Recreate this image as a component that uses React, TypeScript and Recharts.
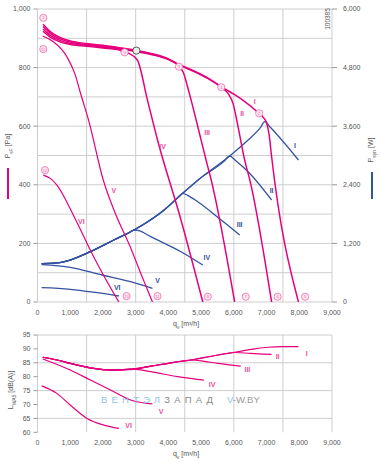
import React from 'react'
import { ComposedChart, Line, Scatter, XAxis, YAxis, CartesianGrid } from 'recharts'

const PINK = '#e5007d'
const PINK_LT = '#ec4f9c'
const BLUE = '#34529f'
const GRID = '#c8c8c8'
const TXT = '#555'
const FONT = '"Liberation Sans", Arial, sans-serif'

// axes
const qTicks = [0, 1000, 2000, 3000, 4000, 5000, 6000, 7000, 8000, 9000]
const qGrid = [0, 500, 1000, 1500, 2000, 2500, 3000, 3500, 4000, 4500, 5000, 5500, 6000, 6500, 7000, 7500, 8000, 8500, 9000]
const pTicks = [0, 200, 400, 600, 800, 1000]
const pGrid = [0, 100, 200, 300, 400, 500, 600, 700, 800, 900, 1000]
const wTicks = [0, 1200, 2400, 3600, 4800, 6000]
const dbTicks = [60, 65, 70, 75, 80, 85, 90, 95]

// pressure curves p_sF [Pa] over q_v [m3/h]
const envQ = [170, 400, 700, 1000, 1500, 2000, 2500, 3000, 3500, 4000, 4300]
const pI_q = [...envQ, 4700, 5200, 5600, 6200, 6750, 6900, 7000, 7080, 7150, 7975]
const pI_v = [948, 922, 902, 891, 882, 876, 868, 859, 847, 830, 812, 793, 765, 736, 695, 646, 630, 612, 570, 500, 0]
const pII_q = [...envQ, 4700, 5200, 5615, 5820, 5975, 6130, 6330, 6490, 7154]
const pII_v = [940, 916, 897, 887, 879, 873, 866, 857, 846, 829, 811, 791, 763, 733, 712, 678, 598, 485, 416, 0]
const pIII_q = [...envQ, 4450, 4640, 4900, 5150, 5310, 6025]
const pIII_v = [932, 909, 892, 883, 876, 870, 863, 855, 844, 827, 808, 785, 712, 598, 485, 416, 0]
const pIV_q = [170, 400, 700, 1000, 1500, 2000, 2500, 2662, 2800, 3052, 3360, 3668, 4385, 5052]
const pIV_v = [924, 903, 887, 879, 873, 867, 860, 852, 848, 826, 689, 553, 280, 0]
const pV_q = [160, 487, 898, 1154, 1308, 1615, 1821, 1975, 2333, 2846, 3200, 3513]
const pV_v = [908, 888, 837, 775, 715, 598, 500, 430, 315, 185, 85, 0]
const pVI_q = [178, 400, 600, 800, 1000, 1308, 1600, 1975, 2487]
const pVI_v = [433, 421, 398, 362, 318, 248, 180, 100, 0]

// power curves P_syn [W]
const wI_q = [128, 590, 1000, 1615, 2333, 2948, 3871, 4436, 4948, 5872, 6437, 6800, 6948, 7100, 7975]
const wI_v = [785, 800, 860, 1030, 1270, 1474, 1884, 2226, 2520, 2990, 3317, 3560, 3692, 3590, 2908]
const wII_q = [128, 590, 1000, 1615, 2333, 2948, 3871, 4436, 4948, 5700, 5872, 6050, 6437, 7154]
const wII_v = [785, 800, 860, 1030, 1270, 1474, 1884, 2226, 2520, 2880, 2990, 2900, 2668, 2089]
const wIII_q = [128, 590, 1000, 1615, 2333, 2948, 3871, 4300, 4436, 4600, 4898, 5615, 6180]
const wIII_v = [785, 800, 860, 1030, 1270, 1474, 1884, 2145, 2226, 2180, 2054, 1679, 1372]
const wIV_q = [128, 590, 1000, 1615, 2333, 2800, 2948, 3100, 3462, 4385, 5052]
const wIV_v = [785, 800, 860, 1030, 1270, 1420, 1474, 1460, 1338, 1030, 758]
const wV_q = [128, 1000, 1975, 2846, 3513]
const wV_v = [765, 710, 553, 416, 280]
const wVI_q = [128, 1000, 1821, 2487]
const wVI_v = [293, 260, 190, 123]

// sound power [dB(A)]
const sI_q = [160, 600, 1000, 1615, 2333, 2948, 3462, 4077, 4692, 5513, 6025, 6538, 7052, 7500, 7975]
const sI_v = [87.0, 86.0, 84.8, 83.2, 82.4, 82.8, 83.8, 85.0, 86.0, 87.8, 88.8, 89.8, 90.6, 90.8, 90.8]
const sII_q = [160, 600, 1000, 1615, 2333, 2948, 3462, 4077, 4692, 5513, 6025, 6500, 7154]
const sII_v = [87.0, 86.0, 84.8, 83.2, 82.4, 82.8, 83.8, 85.0, 86.0, 87.8, 88.7, 88.4, 88.0]
const sIII_q = [160, 600, 1000, 1615, 2333, 2948, 3462, 4077, 4692, 5100, 5513, 6210]
const sIII_v = [87.0, 86.0, 84.8, 83.2, 82.4, 82.8, 83.8, 85.0, 86.0, 85.5, 84.8, 83.8]
const sIV_q = [160, 600, 1000, 1615, 2333, 2800, 2948, 3462, 4282, 5083]
const sIV_v = [87.0, 86.0, 84.8, 83.2, 82.4, 82.5, 82.6, 81.8, 80.0, 78.8]
const sV_q = [160, 385, 1000, 1615, 2333, 2846, 3513]
const sV_v = [86.4, 85.4, 82.4, 78.8, 74.6, 71.6, 70.2]
const sVI_q = [128, 591, 1000, 1513, 2025, 2487]
const sVI_v = [76.7, 74.0, 69.8, 65.0, 62.6, 61.4]

// circled operating points
const ptNum = ['1', '10', '9', '4', '3', '2', '12', '13', '11', '8', '7', '6', '5']
const ptQ = [178, 178, 2662, 5615, 4323, 6775, 230, 2723, 3667, 5205, 6363, 7338, 8178]
const ptP = [970, 863, 852, 733, 803, 644, 450, 20, 20, 18, 18, 18, 18]
const blackPtQ = [3022]
const blackPtP = [858]

// roman labels
const pLabT = ['I', 'II', 'III', 'IV', 'V', 'VI']
const pLabQ = [6640, 6252, 5185, 3822, 2332, 1338]
const pLabV = [684, 644, 578, 530, 379, 276]
const wLabQ = [7871, 7154, 6178, 5175, 3668, 2437]
const wLabV = [3195, 2280, 1590, 920, 440, 295]
const sLabT = ['I', 'II', 'III', 'IV', 'V', 'VI']
const sLabQ = [8230, 7338, 6415, 5338, 3780, 2785]
const sLabV = [88.2, 87.1, 82.4, 77.0, 67.6, 62.6]

const rows = (q: number[], v: number[]) => q.map((x, i) => ({ q: x, v: v[i] }))
const fmt = (v: number) => v.toLocaleString('en-US')

const ptRows = ptQ.map((q, i) => ({ q, v: ptP[i], n: ptNum[i] }))
const blackRows = blackPtQ.map((q, i) => ({ q, v: blackPtP[i], n: '' }))
const pLabRows = pLabQ.map((q, i) => ({ q, v: pLabV[i], t: pLabT[i] }))
const wLabRows = wLabQ.map((q, i) => ({ q, v: wLabV[i], t: pLabT[i] }))
const sLabRows = sLabQ.map((q, i) => ({ q, v: sLabV[i], t: sLabT[i] }))

const Marker = (dark: boolean) => (props: any) => {
  const { cx, cy, payload } = props
  const c = dark ? '#333' : '#ee6aa9'
  return (
    <g>
      <circle cx={cx} cy={cy} r={3.6} fill={dark ? '#eee' : '#fde8f2'} stroke={c} strokeWidth={0.8} />
      <text x={cx} y={cy} dy="0.35em" textAnchor="middle" fontSize={4.2} fill={c} fontFamily={FONT}>
        {payload.n}
      </text>
    </g>
  )
}

const Tag = (color: string) => (props: any) => {
  const { cx, cy, payload } = props
  return (
    <text x={cx} y={cy} dy="0.35em" textAnchor="middle" fontSize={7} fontWeight="bold" fill={color} fontFamily={FONT}>
      {payload.t}
    </text>
  )
}

const tickStyle = { fill: TXT, fontSize: 7, fontFamily: FONT }

function Rot({ x, y, children, size = 7 }: any) {
  return (
    <div
      style={{
        position: 'absolute', left: x, top: y, transform: 'translate(-50%,-50%) rotate(-90deg)',
        whiteSpace: 'nowrap', fontSize: size, color: TXT, lineHeight: 1,
      }}
    >
      {children}
    </div>
  )
}

const pSeries = [
  { q: pI_q, v: pI_v }, { q: pII_q, v: pII_v }, { q: pIII_q, v: pIII_v },
  { q: pIV_q, v: pIV_v }, { q: pV_q, v: pV_v }, { q: pVI_q, v: pVI_v },
]
const wSeries = [
  { q: wI_q, v: wI_v }, { q: wII_q, v: wII_v }, { q: wIII_q, v: wIII_v },
  { q: wIV_q, v: wIV_v }, { q: wV_q, v: wV_v }, { q: wVI_q, v: wVI_v },
]
const sSeries = [
  { q: sI_q, v: sI_v }, { q: sII_q, v: sII_v }, { q: sIII_q, v: sIII_v },
  { q: sIV_q, v: sIV_v }, { q: sV_q, v: sV_v }, { q: sVI_q, v: sVI_v },
]

export default function App() {
  return (
    <div style={{ position: 'absolute', left: 0, top: 0, width: 381, height: 462, background: '#fff', fontFamily: FONT }}>
      <div style={{ position: 'absolute', left: 0, top: 0 }}>
        <ComposedChart width={381} height={322} margin={{ top: 9, right: 0, left: 0, bottom: 0 }}>
          <CartesianGrid yAxisId="left" stroke={GRID} strokeWidth={0.9} horizontalValues={pGrid} verticalValues={qGrid} />
          <XAxis
            type="number" dataKey="q" domain={[0, 9000]} ticks={qTicks} tickFormatter={fmt}
            axisLine={false} tickLine={false} tickSize={0} tickMargin={8} height={20} tick={tickStyle} allowDataOverflow
          />
          <YAxis
            yAxisId="left" type="number" domain={[0, 1000]} ticks={pTicks} tickFormatter={fmt} width={37.5}
            axisLine={false} tickLine={{ stroke: '#999' }} tickSize={4} tickMargin={3} tick={tickStyle} allowDataOverflow
          />
          <YAxis
            yAxisId="right" orientation="right" type="number" domain={[0, 6000]} ticks={wTicks} tickFormatter={fmt} width={49}
            axisLine={false} tickLine={{ stroke: '#999' }} tickSize={5} tickMargin={6} tick={{ ...tickStyle, textAnchor: 'start' }} allowDataOverflow
          />
          {wSeries.map((s, i) => (
            <Line key={'w' + i} yAxisId="right" data={rows(s.q, s.v)} dataKey="v" type="monotone" stroke={BLUE}
              strokeWidth={1.3} dot={false} isAnimationActive={false} />
          ))}
          {pSeries.map((s, i) => (
            <Line key={'p' + i} yAxisId="left" data={rows(s.q, s.v)} dataKey="v" type="monotone" stroke={PINK}
              strokeWidth={i < 4 ? 1.5 : 1.2} dot={false} isAnimationActive={false} />
          ))}
          <Scatter yAxisId="left" data={ptRows} dataKey="v" shape={Marker(false)} isAnimationActive={false} />
          <Scatter yAxisId="left" data={blackRows} dataKey="v" shape={Marker(true)} isAnimationActive={false} />
          <Scatter yAxisId="left" data={pLabRows} dataKey="v" shape={Tag(PINK_LT)} isAnimationActive={false} />
          <Scatter yAxisId="right" data={wLabRows} dataKey="v" shape={Tag(BLUE)} isAnimationActive={false} />
        </ComposedChart>
      </div>

      <div style={{ position: 'absolute', left: 0, top: 322 }}>
        <ComposedChart width={381} height={140} margin={{ top: 13, right: 49, left: 0, bottom: 9.7 }}>
          <CartesianGrid stroke={GRID} strokeWidth={0.9} horizontalValues={dbTicks} verticalValues={qGrid} />
          <XAxis
            type="number" dataKey="q" domain={[0, 9000]} ticks={qTicks} tickFormatter={fmt}
            axisLine={false} tickLine={false} tickSize={0} tickMargin={8} height={20} tick={tickStyle} allowDataOverflow
          />
          <YAxis
            type="number" domain={[60, 95]} ticks={dbTicks} width={37.5}
            axisLine={false} tickLine={{ stroke: '#999' }} tickSize={4} tickMargin={3} tick={tickStyle} allowDataOverflow
          />
          {sSeries.map((s, i) => (
            <Line key={'s' + i} data={rows(s.q, s.v)} dataKey="v" type="monotone" stroke={PINK}
              strokeWidth={1.2} dot={false} isAnimationActive={false} />
          ))}
          <Scatter data={sLabRows} dataKey="v" shape={Tag(PINK_LT)} isAnimationActive={false} />
        </ComposedChart>
      </div>

      {/* axis titles */}
      <div style={{ position: 'absolute', left: 186, top: 325, transform: 'translate(-50%,-50%)', fontSize: 7, color: TXT, whiteSpace: 'nowrap' }}>
        q<sub style={{ fontSize: 5 }}>v</sub> [m³/h]
      </div>
      <div style={{ position: 'absolute', left: 186, top: 455, transform: 'translate(-50%,-50%)', fontSize: 7, color: TXT, whiteSpace: 'nowrap' }}>
        q<sub style={{ fontSize: 5 }}>v</sub> [m³/h]
      </div>
      <Rot x={9} y={146}>P<sub style={{ fontSize: 5 }}>sF</sub> [Pa]</Rot>
      <div style={{ position: 'absolute', left: 7, top: 168, width: 2.2, height: 31, background: PINK }} />
      <Rot x={372} y={150}>P<sub style={{ fontSize: 5 }}>syn</sub> [W]</Rot>
      <div style={{ position: 'absolute', left: 371, top: 172, width: 2.2, height: 27, background: BLUE }} />
      <Rot x={12} y={390}>L<sub style={{ fontSize: 5 }}>WA5</sub> [dB(A)]</Rot>
      <Rot x={328} y={19} size={6.5}>100385</Rot>

      {/* watermark */}
      <div style={{ position: 'absolute', left: 101, top: 394, fontSize: 9.5, letterSpacing: 4.2, color: '#8fc6ea', whiteSpace: 'nowrap' }}>
        ВЕНТЭЛ<span style={{ color: '#8a8a8a' }}>ЗАПАД</span>
      </div>
      <div style={{ position: 'absolute', left: 227, top: 394, fontSize: 9.5, color: '#9a9a9a', whiteSpace: 'nowrap' }}>
        <span style={{ color: '#8fc6ea' }}>V</span>-W.BY
      </div>
    </div>
  )
}
